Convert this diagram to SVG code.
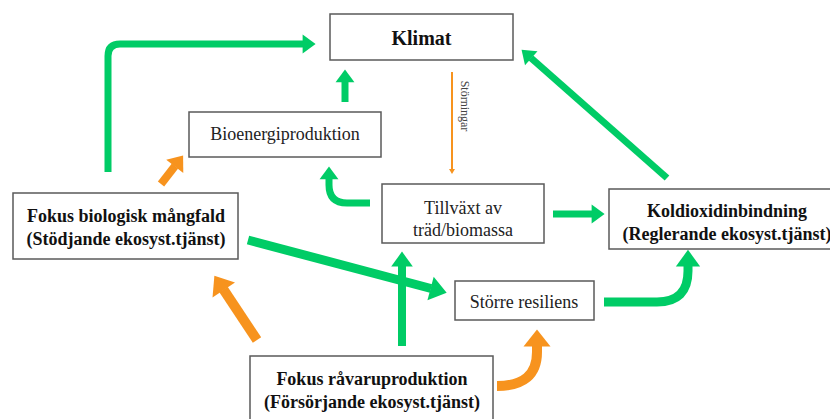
<svg xmlns="http://www.w3.org/2000/svg" width="830" height="419" viewBox="0 0 830 419">
<style>
.box{fill:#fff;stroke:#5a5a5a;stroke-width:1.5}
.t{font-family:"Liberation Serif","Times New Roman",serif;font-size:18px;fill:#222;text-anchor:middle}
.b{font-weight:bold;fill:#111}
.g{fill:none;stroke:#00CC66;stroke-linecap:butt;marker-end:url(#ag)}
.o{fill:none;stroke:#F7931E;stroke-linecap:butt;marker-end:url(#ao)}
</style>
<defs>
<marker id="ag" markerUnits="strokeWidth" markerWidth="1.9" markerHeight="2.7" refX="0.05" refY="1.35" orient="auto" overflow="visible"><path d="M0,0 L1.85,1.35 L0,2.7 z" fill="#00CC66"/></marker>
<marker id="ao" markerUnits="strokeWidth" markerWidth="1.9" markerHeight="2.7" refX="0.05" refY="1.35" orient="auto" overflow="visible"><path d="M0,0 L1.7,1.35 L0,2.7 z" fill="#F7931E"/></marker>
<marker id="aos" markerUnits="userSpaceOnUse" markerWidth="6" markerHeight="6" refX="0" refY="3" orient="auto" overflow="visible"><path d="M0,0 L5,3 L0,6 z" fill="#F7931E"/></marker>
</defs>
<g id="connectors">
<path class="g" style="stroke-width:7" d="M108,172 V56 Q108,44 120,44 H303"/>
<path class="g" style="stroke-width:7" d="M345,102 V82"/>
<path class="g" style="stroke-width:7" d="M370,203 H347 Q329,203 329,185 V179"/>
<path class="g" style="stroke-width:7" d="M553,214 H592"/>
<path class="g" style="stroke-width:7" d="M667,178 L531,58"/>
<path class="g" style="stroke-width:9" d="M248,240 L431,288.5"/>
<path class="g" style="stroke-width:8" d="M402,346 V266"/>
<path class="g" style="stroke-width:9" d="M604,302 H657 Q688,302 688,271 V266"/>
<path class="o" style="stroke-width:8" d="M161,184 L175,166"/>
<path class="o" style="stroke-width:10" d="M257,340 L223.5,289.5"/>
<path class="o" style="stroke-width:10" d="M497,386 Q537,386 537,352 V346"/>
<path d="M452,72 V169" fill="none" stroke="#F7931E" stroke-width="2" marker-end="url(#aos)"/>
<text class="t" style="font-size:12px;fill:#444" transform="translate(461,106) rotate(90)">Störningar</text>
</g>
<g id="klimat"><rect class="box" x="330" y="14" width="183" height="46"/><text class="t b" style="font-size:20px" x="421.5" y="45">Klimat</text></g>
<g id="bioenergi"><rect class="box" x="189" y="112" width="192" height="45"/><text class="t" x="285" y="140">Bioenergiproduktion</text></g>
<g id="tillvaxt"><rect class="box" x="382" y="184" width="162" height="59"/><text class="t" x="463" y="214">Tillväxt av</text><text class="t" x="463" y="236">träd/biomassa</text></g>
<g id="koldioxid"><rect class="box" x="609" y="189" width="224" height="60"/><text class="t b" x="727" y="217">Koldioxidinbindning</text><text class="t b" x="727" y="240">(Reglerande ekosyst.tjänst)</text></g>
<g id="fokus-bio"><rect class="box" x="13" y="193" width="225" height="66"/><text class="t b" x="126" y="222">Fokus biologisk mångfald</text><text class="t b" x="126" y="245">(Stödjande ekosyst.tjänst)</text></g>
<g id="resiliens"><rect class="box" x="455" y="281" width="139" height="39"/><text class="t" x="524" y="308">Större resiliens</text></g>
<g id="fokus-ravaru"><rect class="box" x="250" y="356" width="243" height="66"/><text class="t b" x="372" y="385">Fokus råvaruproduktion</text><text class="t b" x="372" y="408">(Försörjande ekosyst.tjänst)</text></g>
</svg>
